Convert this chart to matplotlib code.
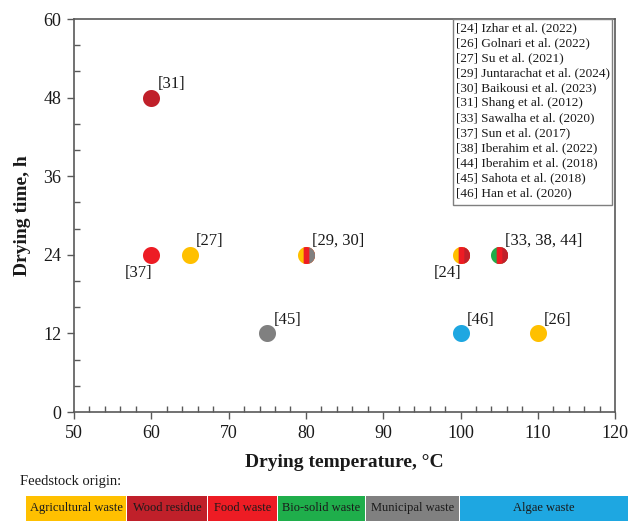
import matplotlib
matplotlib.use('Agg')

import numpy as np
import matplotlib.pyplot as plt
from matplotlib.path import Path
from matplotlib.patches import Rectangle
from matplotlib.ticker import MultipleLocator

plt.rcParams['font.family'] = ['Liberation Serif', 'DejaVu Serif']

# feedstock colours
c_agri = '#FFC000'
c_wood = '#C0202A'
c_food = '#ED1C24'
c_bio = '#1FAE4B'
c_muni = '#808080'
c_algae = '#1EA7E1'

# data points: temperature (degC), time (h), feedstock colours, label
temps = [60, 60, 65, 80, 75, 100, 105, 100, 110]
times = [48, 24, 24, 24, 12, 24, 24, 12, 12]
point_colors = [
    [c_wood],
    [c_food],
    [c_agri],
    [c_agri, c_food, c_muni],
    [c_muni],
    [c_agri, c_food, c_wood],
    [c_bio, c_food, c_wood],
    [c_algae],
    [c_agri],
]
labels = ['[31]', '[37]', '[27]', '[29, 30]', '[45]', '[24]', '[33, 38, 44]', '[46]', '[26]']
label_side = ['right', 'left', 'right', 'right', 'right', 'left', 'right', 'right', 'right']

refs = [
    '[24] Izhar et al. (2022)',
    '[26] Golnari et al. (2022)',
    '[27] Su et al. (2021)',
    '[29] Juntarachat et al. (2024)',
    '[30] Baikousi et al. (2023)',
    '[31] Shang et al. (2012)',
    '[33] Sawalha et al. (2020)',
    '[37] Sun et al. (2017)',
    '[38] Iberahim et al. (2022)',
    '[44] Iberahim et al. (2018)',
    '[45] Sahota et al. (2018)',
    '[46] Han et al. (2020)',
]

origin_names = ['Agricultural waste', 'Wood residue', 'Food waste',
                'Bio-solid waste', 'Municipal waste', 'Algae waste']
origin_colors = [c_agri, c_wood, c_food, c_bio, c_muni, c_algae]


def stripe_marker(a, b):
    # slice of the unit circle between x=a and x=b
    t_top = np.linspace(np.arccos(a), np.arccos(b), 40)
    t_bot = np.linspace(-np.arccos(b), -np.arccos(a), 40)
    t = np.concatenate([t_top, t_bot])
    # two extra moveto points keep marker scaling identical for every slice
    verts = [(1, 1), (-1, -1)] + list(zip(np.cos(t), np.sin(t))) + [(0, 0)]
    codes = [Path.MOVETO, Path.MOVETO, Path.MOVETO] + [Path.LINETO] * (len(t) - 1) + [Path.CLOSEPOLY]
    return Path(verts, codes)


fig = plt.figure(figsize=(6.29, 5.21), dpi=100)
ax = fig.add_axes([0.1176, 0.209, 0.8604, 0.7545])

for x, y, cols, lab, side in zip(temps, times, point_colors, labels, label_side):
    n = len(cols)
    edges = np.linspace(-1, 1, n + 1)
    for i, c in enumerate(cols):
        # each slice runs to the right edge, the next one is painted over it
        ax.scatter([x], [y], s=150, marker=stripe_marker(edges[i], 1.0),
                   color=c, linewidths=0, zorder=3 + i * 0.01)
    if side == 'right':
        ax.text(x + 0.8, y + 2.1, lab, fontsize=12, ha='left', va='center', color='#1a1a1a')
    else:
        ax.text(x + 0.1, y - 2.7, lab, fontsize=12, ha='right', va='center', color='#1a1a1a')

ax.set_xlim(50, 120)
ax.set_ylim(0, 60)
ax.xaxis.set_major_locator(MultipleLocator(10))
ax.xaxis.set_minor_locator(MultipleLocator(2))
ax.yaxis.set_major_locator(MultipleLocator(12))
ax.yaxis.set_minor_locator(MultipleLocator(4))
ax.tick_params(which='major', direction='out', length=5, width=1, color='#595959',
               labelsize=13, pad=4, labelcolor='#1a1a1a')
ax.tick_params(which='minor', direction='in', length=4, width=1, color='#595959')
for sp in ax.spines.values():
    sp.set_color('#595959')
    sp.set_linewidth(1.2)

ax.set_xlabel('Drying temperature, °C', fontsize=14, fontweight='bold', labelpad=9, color='#1a1a1a')
ax.set_ylabel('Drying time, h', fontsize=14, fontweight='bold', labelpad=9, color='#1a1a1a')

# reference list box
ax.add_patch(Rectangle((0.70, 0.527), 0.294, 0.473, transform=ax.transAxes,
                       facecolor='white', edgecolor='#7f7f7f', linewidth=1, zorder=4))
for i, r in enumerate(refs):
    ax.text(0.706, 0.977 - i * 0.0382, r, transform=ax.transAxes, fontsize=9.5,
            ha='left', va='center', color='#1a1a1a', zorder=5)

# feedstock origin bar
fig.text(0.032, 0.075, 'Feedstock origin:', fontsize=10.5, ha='left', va='center', color='#1a1a1a')
bounds = [26, 127, 208, 278, 366, 460, 629]
for i, (name, c) in enumerate(zip(origin_names, origin_colors)):
    x0 = bounds[i] / 629
    w = (bounds[i + 1] - bounds[i] - 1) / 629
    fig.patches.append(Rectangle((x0, 0.0), w, 0.048, transform=fig.transFigure,
                                 facecolor=c, edgecolor='none'))
    fig.text(x0 + w / 2, 0.024, name, fontsize=9, ha='center', va='center', color='#1a1a1a')

fig.savefig('out.png', dpi=100)
